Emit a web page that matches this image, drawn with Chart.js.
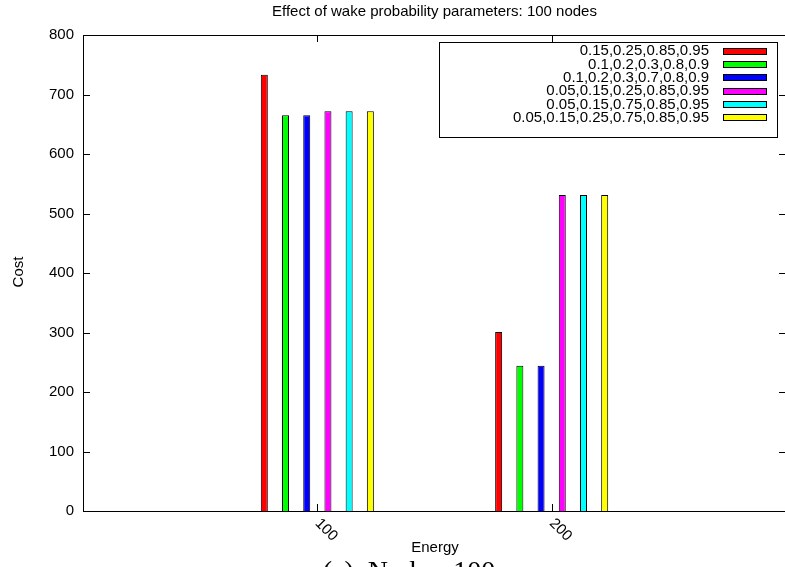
<!DOCTYPE html>
<html>
<head>
<meta charset="utf-8">
<script src="https://cdn.jsdelivr.net/npm/chart.js@4"></script>
<style>
  html, body { margin: 0; padding: 0; background: #fff; overflow: hidden; }
  #wrap { width: 787px; height: 567px; }
</style>
</head>
<body>
<div id="wrap"><canvas id="myChart" width="787" height="567"></canvas></div>
<script>
const energies = [100, 200];
const seriesLabels = [
  "0.15,0.25,0.85,0.95",
  "0.1,0.2,0.3,0.8,0.9",
  "0.1,0.2,0.3,0.7,0.8,0.9",
  "0.05,0.15,0.25,0.85,0.95",
  "0.05,0.15,0.75,0.85,0.95",
  "0.05,0.15,0.25,0.75,0.85,0.95",
];
const costA = [733, 301];
const costB = [665, 244];
const costC = [665, 244];
const costD = [672, 531];
const costE = [672, 531];
const costF = [672, 531];
const yTicks = [0, 100, 200, 300, 400, 500, 600, 700, 800];

const seriesColors = ["#ff0000", "#00ff00", "#0000ff", "#ff00ff", "#00ffff", "#ffff00"];
const allCosts = [costA, costB, costC, costD, costE, costF];
const FONT = "'Liberation Sans', Arial, sans-serif";

const datasets = allCosts.map((vals, i) => ({
  label: seriesLabels[i],
  data: energies.map((e, j) => ({ x: e, y: vals[j] })),
  backgroundColor: seriesColors[i],
  borderColor: "#000",
  borderWidth: 1,
  borderSkipped: "bottom",
  categoryPercentage: 0.543,
  barPercentage: 0.33,
}));

const gnuplotBits = {
  id: "gnuplotBits",
  afterDraw(chart) {
    const ctx = chart.ctx;
    const a = chart.chartArea;
    const x = chart.scales.x;
    const y = chart.scales.y;
    ctx.save();
    ctx.strokeStyle = "#000";
    ctx.lineWidth = 1;
    // frame
    ctx.strokeRect(a.left + 0.5, a.top + 0.5, a.right - a.left - 1, a.bottom - a.top);
    // ticks (inward, mirrored)
    ctx.beginPath();
    yTicks.forEach(v => {
      const py = Math.round(y.getPixelForValue(v)) + 0.5;
      ctx.moveTo(a.left, py); ctx.lineTo(a.left + 7, py);
      ctx.moveTo(a.right, py); ctx.lineTo(a.right - 7, py);
    });
    energies.forEach(e => {
      const px = Math.round(x.getPixelForValue(e)) + 0.5;
      ctx.moveTo(px, a.bottom); ctx.lineTo(px, a.bottom - 7);
      ctx.moveTo(px, a.top); ctx.lineTo(px, a.top + 7);
    });
    ctx.stroke();

    ctx.fillStyle = "#000";
    // rotated x tick labels
    ctx.font = "15px " + FONT;
    energies.forEach(e => {
      const px = x.getPixelForValue(e);
      ctx.save();
      ctx.translate(px, a.bottom + 10);
      ctx.rotate(Math.PI / 4);
      ctx.textAlign = "left";
      ctx.textBaseline = "middle";
      ctx.fillText(String(e), 0, 0);
      ctx.restore();
    });

    // title
    ctx.textAlign = "center";
    ctx.textBaseline = "middle";
    ctx.fillText("Effect of wake probability parameters: 100 nodes", (a.left + a.right) / 2, 12);
    // axis titles
    ctx.fillText("Energy", 435, 548);
    ctx.save();
    ctx.translate(19, 272);
    ctx.rotate(-Math.PI / 2);
    ctx.fillText("Cost", 0, 0);
    ctx.restore();

    // legend
    const lx0 = 439, lx1 = 777, ly0 = 42.5, ly1 = 137.5;
    ctx.strokeRect(lx0 + 0.5, ly0, lx1 - lx0, ly1 - ly0);
    chart.data.datasets.forEach((ds, i) => {
      const cy = 50.7 + i * 13.33;
      ctx.textAlign = "right";
      ctx.fillStyle = "#000";
      ctx.fillText(ds.label, 709, cy + 0.5);
      ctx.fillStyle = ds.backgroundColor;
      ctx.fillRect(723, Math.round(cy) - 3, 44, 7);
      ctx.strokeRect(723.5, Math.round(cy) - 2.5, 43, 6);
    });

    // caption
    ctx.fillStyle = "#000";
    ctx.textAlign = "center";
    ctx.textBaseline = "alphabetic";
    ctx.font = "28px 'Liberation Serif', 'Times New Roman', serif";
    ctx.fillText("(a)  Nodes  100", 409, 580);
    ctx.restore();
  }
};

const ctx = document.getElementById("myChart").getContext("2d");
const myChart = new Chart(ctx, {
  type: "bar",
  data: { datasets: datasets },
  options: {
    responsive: false,
    animation: false,
    layout: { padding: { left: 0, right: 1, top: 35, bottom: 0 } },
    plugins: { legend: { display: false }, title: { display: false }, tooltip: { enabled: false } },
    scales: {
      x: {
        type: "linear",
        offset: false,
        min: 0,
        max: 300,
        grid: { display: false, drawTicks: false, offset: false },
        border: { display: false },
        ticks: { display: false, stepSize: 100 },
        afterFit: s => { s.height = 56; },
      },
      y: {
        min: 0,
        max: 800,
        grid: { display: false, drawTicks: false },
        border: { display: false },
        ticks: {
          stepSize: 100,
          padding: 9,
          color: "#000",
          font: { family: FONT, size: 15 },
        },
        afterFit: s => { s.width = 83; },
      },
    },
  },
  plugins: [gnuplotBits],
});
</script>
</body>
</html>
